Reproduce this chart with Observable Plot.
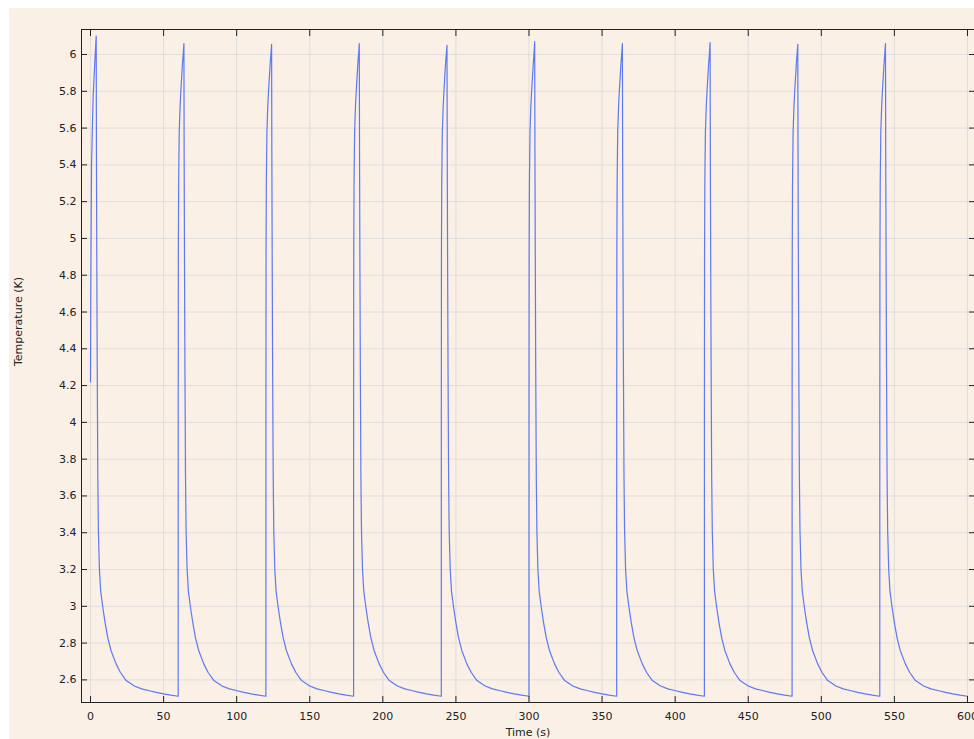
<!DOCTYPE html>
<html><head><meta charset="utf-8">
<script src="https://cdn.jsdelivr.net/npm/d3@7"></script>
<script src="https://cdn.jsdelivr.net/npm/@observablehq/plot@0.6"></script>
<style>
html,body{margin:0;padding:0;background:#fff;}
#chart{position:absolute;left:9px;top:8px;width:965px;height:731px;background:#faf0e6;overflow:hidden;}
</style></head><body><div id="chart"></div>
<script>
// Pulse cycles (every 60 s)
const cycleStart = [0, 60, 120, 180, 240, 300, 360, 420, 480, 540];
const cyclePeak  = [6.10, 6.06, 6.055, 6.06, 6.05, 6.07, 6.06, 6.065, 6.055, 6.06];
const peakTau = 3.9;

// First cycle rise (starts from 4.22 K)
const firstRiseTau  = [0, 0.2, 0.7, 1.8, 2.9, 3.4];
const firstRiseTemp = [4.22, 4.70, 5.40, 5.77, 5.95, 6.03];

// Rise of later cycles (time after cycle start, temperature)
const riseTau  = [0.02, 0.1, 0.3, 0.7, 1.3, 1.8, 2.4, 2.9, 3.4];
const riseTemp = [4.00, 4.90, 5.30, 5.58, 5.72, 5.80, 5.88, 5.95, 6.00];

// Fall and decay after the peak (time after cycle start, temperature)
const decayTau  = [4.05, 4.3, 4.6, 5.0, 5.4, 6.1, 7.0, 8.4, 10, 11.8, 14, 17.5, 20.5, 24.4, 30, 35, 40.4, 45, 50, 55, 60];
const decayTemp = [5.50, 4.90, 4.30, 3.70, 3.41, 3.20, 3.08, 2.995, 2.91, 2.83, 2.76, 2.687, 2.64, 2.596, 2.567, 2.551, 2.541, 2.532, 2.524, 2.517, 2.511];

const xTicks = [0, 50, 100, 150, 200, 250, 300, 350, 400, 450, 500, 550, 600];
const yTicks = [2.6, 2.8, 3, 3.2, 3.4, 3.6, 3.8, 4, 4.2, 4.4, 4.6, 4.8, 5, 5.2, 5.4, 5.6, 5.8, 6];

const rows = [];
cycleStart.forEach((s, k) => {
  const rt = k === 0 ? firstRiseTau : riseTau;
  const rT = k === 0 ? firstRiseTemp : riseTemp;
  rt.forEach((tau, i) => rows.push({t: s + tau, T: rT[i]}));
  rows.push({t: s + peakTau, T: cyclePeak[k]});
  decayTau.forEach((tau, i) => rows.push({t: s + tau, T: decayTemp[i]}));
});

const ink = "#222";
const fmt = d => `${d}`;
const blank = () => "";

const chart = Plot.plot({
  width: 965,
  height: 731,
  marginLeft: 72,
  marginTop: 21,
  marginBottom: 37,
  marginRight: 0,
  style: {background: "#faf0e6", fontFamily: "DejaVu Sans, sans-serif", fontSize: "11px", color: ink},
  x: {domain: [-6.16, 604.8]},
  y: {domain: [2.477, 6.136]},
  marks: [
    Plot.gridX(xTicks, {stroke: "#d6d6d6", strokeOpacity: 0.7}),
    Plot.gridY(yTicks, {stroke: "#d6d6d6", strokeOpacity: 0.7}),
    Plot.line(rows, {x: "t", y: "T", stroke: "#4d6bf2", strokeWidth: 1.2, strokeOpacity: 0.9}),
    Plot.frame({stroke: ink}),
    // inward ticks on all four sides
    Plot.axisY(yTicks, {anchor: "left", tickSize: 6, dx: 6, tickFormat: blank, label: null, stroke: ink}),
    Plot.axisY(yTicks, {anchor: "right", tickSize: 6, dx: -6, tickFormat: blank, label: null, stroke: ink}),
    Plot.axisX(xTicks, {anchor: "top", tickSize: 6, dy: 6, tickFormat: blank, label: null, stroke: ink}),
    Plot.axisX(xTicks, {anchor: "bottom", tickSize: 6, dy: -6, tickFormat: blank, label: null, stroke: ink}),
    // tick labels
    Plot.axisY(yTicks, {anchor: "left", tickSize: 0, tickPadding: 5, tickFormat: fmt, label: null, fill: ink}),
    Plot.axisX(xTicks, {anchor: "bottom", tickSize: 0, tickPadding: 10, tickFormat: fmt, label: null, fill: ink}),
    // axis titles
    Plot.text(["Time (s)"], {frameAnchor: "bottom", dy: 30, lineAnchor: "middle", fill: ink, fontSize: 11}),
    Plot.text(["Temperature (K)"], {frameAnchor: "left", dx: -63, rotate: -90, lineAnchor: "middle", fill: ink, fontSize: 11})
  ]
});
document.getElementById("chart").appendChild(chart);
</script>
</body></html>
